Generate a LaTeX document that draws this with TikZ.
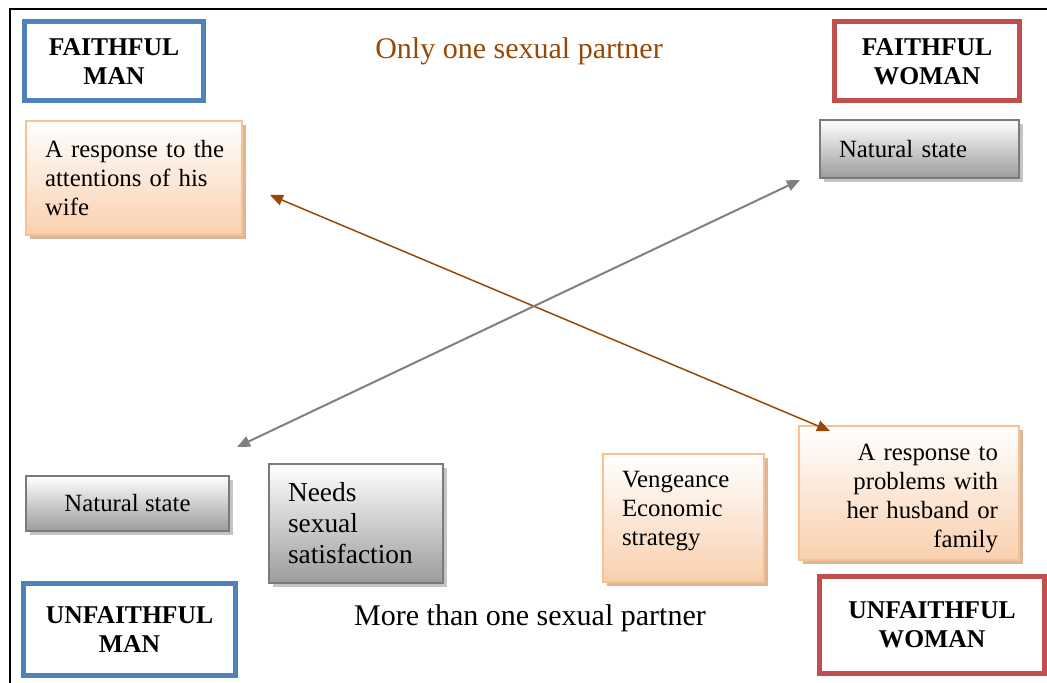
\documentclass[tikz,border=0pt]{standalone}
\usepackage{fontspec}
\setmainfont{Liberation Serif}
\usetikzlibrary{shadows,arrows.meta}

\definecolor{manblue}{HTML}{4F81BD}
\definecolor{womanred}{HTML}{C0504D}
\definecolor{peachedge}{HTML}{FAC090}
\definecolor{peachfill}{HTML}{F9D0AE}
\definecolor{peachshadow}{HTML}{D8B79C}
\definecolor{greyedge}{HTML}{7A7A7A}
\definecolor{greyfill}{HTML}{9C9C9C}
\definecolor{greyshadow}{HTML}{C4C4C4}
\definecolor{rust}{HTML}{984806}
\definecolor{arrowgrey}{HTML}{808080}

\tikzset{
  bodyfont/.style={font=\fontsize{12.4}{14.5}\selectfont},
  groupbox/.style={draw=#1, line width=2.5pt, fill=white, align=center,
    font=\fontsize{12.8}{14.5}\selectfont\bfseries, inner sep=0pt},
  peachbox/.style={draw=peachedge, line width=0.8pt, top color=white,
    bottom color=peachfill, bodyfont, inner xsep=9.5pt, inner ysep=0pt,
    drop shadow={shadow xshift=1.8pt, shadow yshift=-1.8pt, fill=peachshadow, opacity=1}},
  greybox/.style={draw=greyedge, line width=1pt, top color=white,
    bottom color=greyfill, bodyfont, inner xsep=9.5pt, inner ysep=0pt,
    drop shadow={shadow xshift=1.8pt, shadow yshift=-1.8pt, fill=greyshadow, opacity=1}},
  linkarrow/.style={{Triangle[length=6.5pt,width=5.5pt]}-{Triangle[length=6.5pt,width=5.5pt]}},
}

\begin{document}
\begin{tikzpicture}[x=0.5pt, y=-0.5pt]
\useasboundingbox (0,0) rectangle (1047,683);

% page frame
\draw[line width=1pt] (10,683) -- (10,9) -- (1047,9);

% headings
\node[text=rust, font=\fontsize{15}{17}\selectfont, anchor=base] (one) at (519,59) {Only one sexual partner};
\node[font=\fontsize{15}{17}\selectfont, anchor=base] (more) at (530,625) {More than one sexual partner};

% the four groups
\node[groupbox=manblue, minimum width=89.5pt, minimum height=39.5pt] (fman) at (114,61.5) {FAITHFUL\\MAN};
\node[groupbox=womanred, minimum width=92.5pt, minimum height=39.5pt] (fwoman) at (927,61.5) {FAITHFUL\\WOMAN};
\node[groupbox=manblue, minimum width=106pt, minimum height=46pt] (uman) at (129.5,629.5) {UNFAITHFUL\\MAN};
\node[groupbox=womanred, minimum width=112.5pt, minimum height=48.5pt] (uwoman) at (932,625) {UNFAITHFUL\\WOMAN};

% reasons
\node[peachbox, minimum width=108pt, minimum height=57pt, text width=89pt, align=left] (wife) at (134,178)
  {\mbox{A response to the}\\\mbox{attentions of his}\\wife};
\node[greybox, minimum width=99.5pt, minimum height=29pt, text width=80.5pt, align=left] (fnat) at (919.5,149)
  {Natural state};
\node[greybox, minimum width=101.5pt, minimum height=27.5pt, align=center] (unat) at (127.5,503.5)
  {Natural state};
\node[greybox, minimum width=87pt, minimum height=59.5pt, text width=68pt, align=left,
  font=\fontsize{13.7}{15.5}\selectfont] (needs) at (356,523.5)
  {Needs\\sexual\\satisfaction};
\node[peachbox, minimum width=80.5pt, minimum height=64pt, text width=61.5pt, align=left] (venge) at (683.5,518)
  {Vengeance\\Economic\\strategy\rule[-10pt]{0pt}{10pt}};
\node[peachbox, minimum width=110pt, minimum height=67pt, text width=89pt, align=right] (family) at (909,493)
  {\rule{0pt}{14pt}A response to\\problems with\\her husband or\\family};

% crossing links
\coordinate (wifeend) at (270,195);
\coordinate (familyend) at (830,431);
\coordinate (unatend) at (237,447);
\coordinate (fnatend) at (800,180);
\draw[linkarrow, draw=rust, fill=rust, line width=0.75pt] (wifeend) -- (familyend);
\draw[linkarrow, draw=arrowgrey, fill=arrowgrey, line width=1pt] (unatend) -- (fnatend);
\end{tikzpicture}
\end{document}
